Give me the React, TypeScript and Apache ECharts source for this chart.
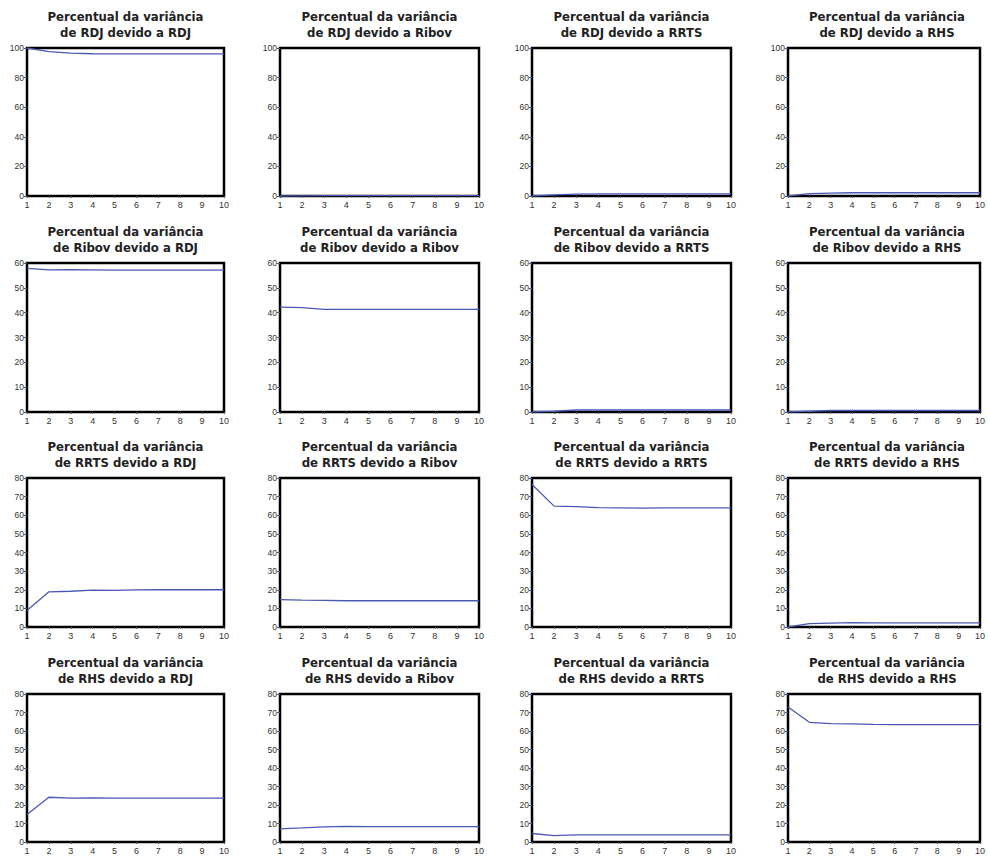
import React, { useEffect, useRef } from "react";
import * as echarts from "echarts";

const horizons = [1, 2, 3, 4, 5, 6, 7, 8, 9, 10];
const variables = ["RDJ", "Ribov", "RRTS", "RHS"];
const rowMax = [100, 60, 80, 80];
const rowInterval = [20, 10, 10, 10];

// row: variable explained, columns: due to RDJ, Ribov, RRTS, RHS
const rdjDueRdj = [100, 97.5, 96.6, 96.1, 96.0, 96.0, 96.0, 96.0, 96.0, 96.0];
const rdjDueRibov = [0, 0.1, 0.3, 0.2, 0.2, 0.2, 0.2, 0.2, 0.2, 0.2];
const rdjDueRrts = [0, 0.8, 1.2, 1.4, 1.4, 1.4, 1.4, 1.4, 1.4, 1.4];
const rdjDueRhs = [0, 1.6, 1.9, 2.2, 2.2, 2.2, 2.2, 2.2, 2.2, 2.2];

const ribovDueRdj = [57.8, 57.2, 57.3, 57.2, 57.1, 57.1, 57.1, 57.1, 57.1, 57.1];
const ribovDueRibov = [42.2, 42.0, 41.3, 41.3, 41.3, 41.3, 41.3, 41.3, 41.3, 41.3];
const ribovDueRrts = [0, 0.3, 0.8, 0.8, 0.8, 0.8, 0.8, 0.8, 0.8, 0.8];
const ribovDueRhs = [0, 0.3, 0.6, 0.6, 0.6, 0.6, 0.6, 0.6, 0.6, 0.6];

const rrtsDueRdj = [8.8, 18.9, 19.2, 19.8, 19.7, 19.9, 20.0, 20.0, 20.0, 20.0];
const rrtsDueRibov = [14.7, 14.4, 14.3, 14.1, 14.1, 14.1, 14.1, 14.1, 14.1, 14.1];
const rrtsDueRrts = [76.5, 64.9, 64.6, 64.1, 64.0, 63.8, 64.0, 64.0, 64.0, 64.0];
const rrtsDueRhs = [0, 1.8, 2.1, 2.4, 2.2, 2.2, 2.2, 2.2, 2.2, 2.2];

const rhsDueRdj = [14.9, 24.2, 23.7, 23.9, 23.7, 23.7, 23.7, 23.7, 23.7, 23.7];
const rhsDueRibov = [7.1, 7.6, 8.2, 8.4, 8.3, 8.3, 8.3, 8.3, 8.3, 8.3];
const rhsDueRrts = [4.6, 3.4, 3.9, 3.9, 3.8, 3.8, 3.8, 3.8, 3.8, 3.8];
const rhsDueRhs = [73.0, 64.7, 64.0, 63.8, 63.6, 63.5, 63.5, 63.5, 63.5, 63.5];

const panels = [
  [rdjDueRdj, rdjDueRibov, rdjDueRrts, rdjDueRhs],
  [ribovDueRdj, ribovDueRibov, ribovDueRrts, ribovDueRhs],
  [rrtsDueRdj, rrtsDueRibov, rrtsDueRrts, rrtsDueRhs],
  [rhsDueRdj, rhsDueRibov, rhsDueRrts, rhsDueRhs],
];

const colLeft = [27, 280, 532, 788];
const colWidth = [197, 199, 199, 198];
const rowTop = [48, 263, 478, 694];
const rowHeight = [148, 149, 149, 148];

export default function App() {
  const ref = useRef<HTMLDivElement>(null);
  useEffect(() => {
    if (!ref.current) return;
    const chart = echarts.init(ref.current, undefined, { renderer: "svg" });
    const grid: any[] = [];
    const xAxis: any[] = [];
    const yAxis: any[] = [];
    const series: any[] = [];
    const title: any[] = [];
    let idx = 0;
    for (let r = 0; r < 4; r++) {
      for (let c = 0; c < 4; c++) {
        grid.push({
          left: colLeft[c],
          top: rowTop[r],
          width: colWidth[c],
          height: rowHeight[r],
          show: true,
          borderColor: "#000",
          borderWidth: 2.5,
          backgroundColor: "#fff",
          z: 0,
        });
        xAxis.push({
          type: "value",
          gridIndex: idx,
          min: 1,
          max: 10,
          interval: 1,
          axisLine: { show: false },
          axisTick: { show: true, length: 2, lineStyle: { color: "#555" } },
          splitLine: { show: false },
          axisLabel: { fontSize: 9, color: "#333", margin: 4, fontFamily: "Liberation Sans, Arial, sans-serif" },
        });
        yAxis.push({
          type: "value",
          gridIndex: idx,
          min: 0,
          max: rowMax[r],
          interval: rowInterval[r],
          axisLine: { show: false },
          axisTick: { show: true, length: 3, lineStyle: { color: "#555" } },
          splitLine: { show: false },
          axisLabel: { fontSize: 8.5, color: "#333", margin: 3, fontFamily: "Liberation Sans, Arial, sans-serif" },
        });
        series.push({
          type: "line",
          xAxisIndex: idx,
          yAxisIndex: idx,
          data: horizons.map((h, i) => [h, panels[r][c][i]]),
          symbol: "none",
          lineStyle: { color: "#4a58b4", width: 1.3 },
          z: 3,
        });
        title.push({
          text: "Percentual da variância\nde " + variables[r] + " devido a " + variables[c],
          left: colLeft[c] + colWidth[c] / 2,
          top: rowTop[r] - 40,
          textAlign: "center",
          padding: 0,
          textStyle: {
            fontFamily: "'DejaVu Sans Condensed', 'Liberation Sans Narrow', sans-serif",
            fontWeight: "bold",
            fontSize: 13,
            lineHeight: 16,
            color: "#222",
          },
        });
        idx++;
      }
    }
    chart.setOption({
      animation: false,
      backgroundColor: "#fff",
      title,
      grid,
      xAxis,
      yAxis,
      series,
    });
    return () => chart.dispose();
  }, []);
  return (
    <div
      ref={ref}
      style={{ position: "fixed", left: 0, top: 0, width: 988, height: 856 }}
    />
  );
}
